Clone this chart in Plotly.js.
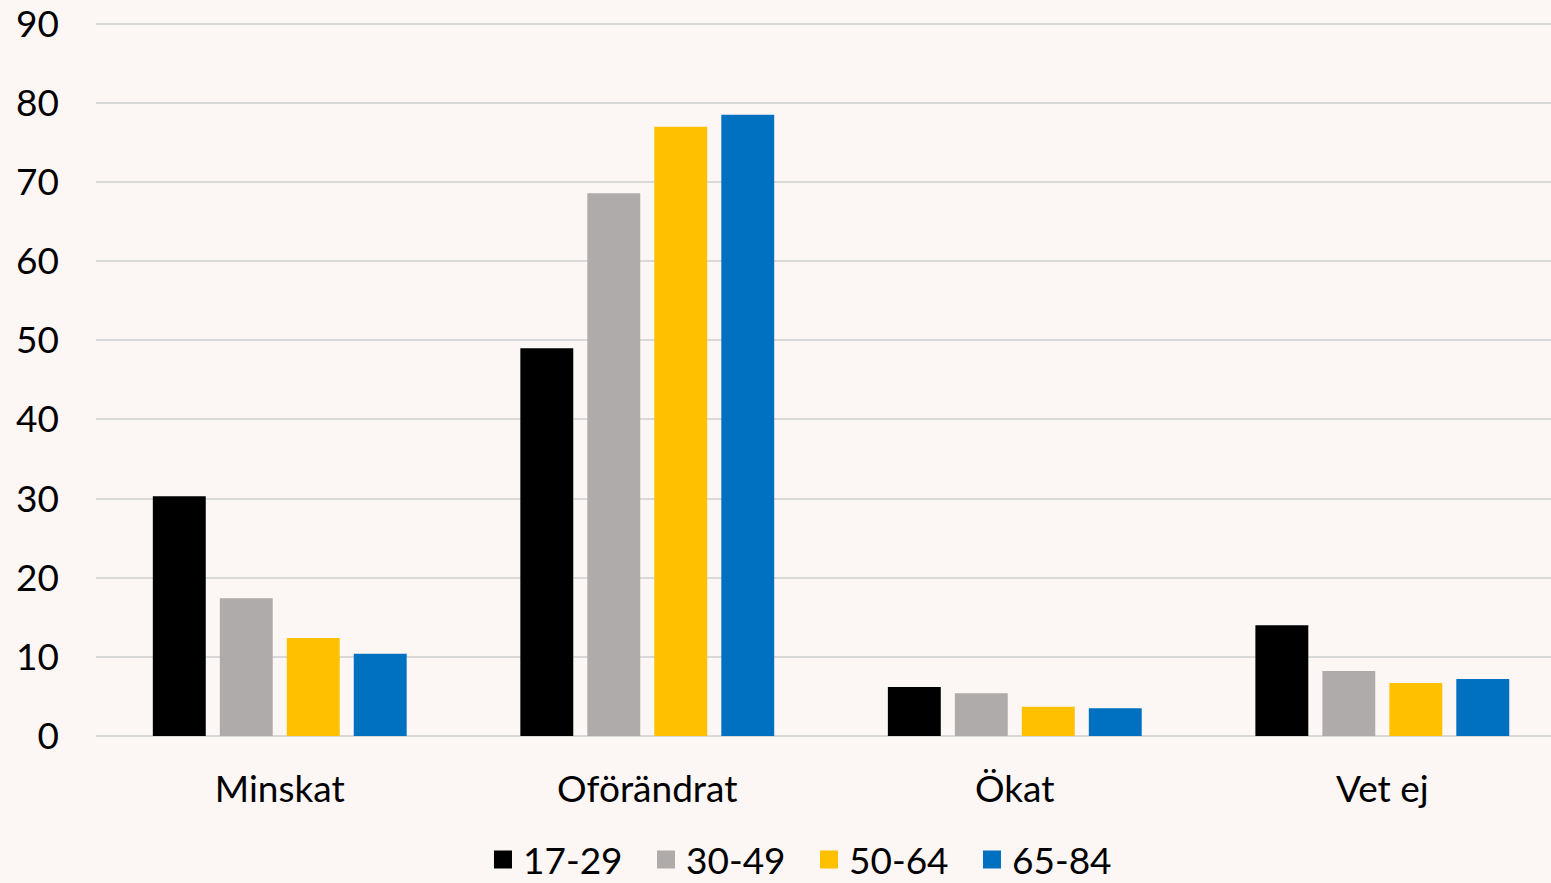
<!DOCTYPE html>
<html>
<head>
<meta charset="utf-8">
<script src="https://cdn.plot.ly/plotly-3.0.1.min.js"></script>
<style>
html,body{margin:0;padding:0;background:#fcf6f5;}
#chart{width:1551px;height:883px;}
</style>
</head>
<body>
<div id="chart"></div>
<script>
const categories = ["Minskat", "Oförändrat", "Ökat", "Vet ej"];
const seriesNames = ["17-29", "30-49", "50-64", "65-84"];
const s1729 = [30.3, 49.0, 6.2, 14.0];
const s3049 = [17.4, 68.6, 5.4, 8.2];
const s5064 = [12.4, 77.0, 3.7, 6.7];
const s6584 = [10.4, 78.5, 3.5, 7.2];
const colors = ["#000000", "#afabaa", "#ffc000", "#0070c0"];
const yTicks = [0, 10, 20, 30, 40, 50, 60, 70, 80, 90];

const values = [s1729, s3049, s5064, s6584];
const font = "Lato, 'Open Sans', sans-serif";

const traces = values.map((v, i) => ({
  type: "bar",
  name: seriesNames[i],
  x: categories,
  y: v,
  marker: {color: colors[i]},
  showlegend: false,
  hoverinfo: "x+y+name"
}));

// legend entries with larger square swatches
const legendTraces = seriesNames.map((n, i) => ({
  type: "scatter",
  mode: "markers",
  name: n,
  x: [null],
  y: [null],
  marker: {symbol: "square", size: 16, color: colors[i], line: {color: colors[i], width: 2}},
  showlegend: true,
  hoverinfo: "skip"
}));

const layout = {
  width: 1551,
  height: 883,
  paper_bgcolor: "#fcf6f5",
  plot_bgcolor: "#fcf6f5",
  margin: {l: 96, r: 0, t: 8, b: 147, autoexpand: false},
  barmode: "group",
  bargap: 0.271,
  bargroupgap: 0.21,
  font: {family: font, size: 37, color: "#000000"},
  xaxis: {
    type: "category",
    range: [-0.5, 3.459],
    showgrid: false,
    zeroline: false,
    showline: false,
    ticks: "",
    automargin: false,
    ticklabelstandoff: 28,
    tickfont: {family: font, size: 37, color: "#000000"}
  },
  yaxis: {
    range: [0, 92],
    tickvals: yTicks,
    ticktext: yTicks.map(String),
    showgrid: true,
    gridcolor: "#d9d9d9",
    gridwidth: 2,
    zeroline: true,
    zerolinecolor: "#d9d9d9",
    zerolinewidth: 2,
    showline: false,
    ticks: "",
    automargin: false,
    ticklabeloverflow: "allow",
    ticklabelstandoff: 36,
    tickfont: {family: font, size: 37, color: "#000000"}
  },
  showlegend: true,
  legend: {
    orientation: "h",
    xref: "container",
    yref: "container",
    x: 0.3114,
    xanchor: "left",
    y: 0.026,
    yanchor: "middle",
    font: {family: font, size: 37, color: "#000000"},
    bgcolor: "rgba(0,0,0,0)",
    itemwidth: 30,
    entrywidth: 118,
    entrywidthmode: "pixels",
    tracegroupgap: 0
  }
};

Plotly.newPlot("chart", traces.concat(legendTraces), layout, {displayModeBar: false, staticPlot: true});
</script>
</body>
</html>
